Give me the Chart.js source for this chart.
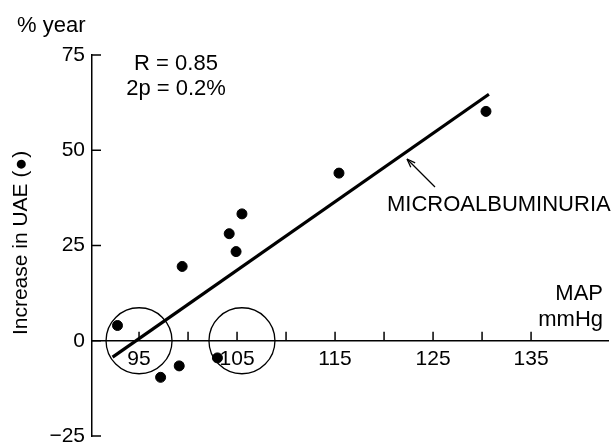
<!DOCTYPE html>
<html>
<head>
<meta charset="utf-8">
<script src="https://cdn.jsdelivr.net/npm/chart.js@4/dist/chart.umd.min.js"></script>
<style>
  html, body { margin: 0; padding: 0; background: #fff; }
  #wrap { width: 612px; height: 445px; position: relative; }
</style>
</head>
<body>
<div id="wrap"><canvas id="c" width="612" height="445"></canvas></div>
<script>
// MAP (mmHg) and increase in UAE (% / year) for each patient
const mapValues   = [92.8, 97.2, 99.1, 99.4, 103.0, 104.2, 104.9, 105.5, 115.4, 130.4];
const uaeIncrease = [4.0, -9.6, -6.6, 19.5, -4.5, 28.1, 23.4, 33.3, 44.0, 60.2];
// Regression line end points
const regressionX = [92.3, 130.7];
const regressionY = [-4.3, 64.7];
// Encircled regions
const circleX = [95, 105.5];
const circleY = [0, 0];
// Axis ticks
const xTicks = [95, 100, 105, 110, 115, 120, 125, 130, 135];
const xLabelled = [95, 105, 115, 125, 135];
const yTicks = [-25, 0, 25, 50, 75];

const FONT = '"Liberation Sans", Arial, Helvetica, sans-serif';
const INK = '#000';

const pts = mapValues.map((x, i) => ({ x, y: uaeIncrease[i] }));
const reg = regressionX.map((x, i) => ({ x, y: regressionY[i] }));
const circ = circleX.map((x, i) => ({ x, y: circleY[i] }));

const decor = {
  id: 'decor',
  afterDraw(chart) {
    const { ctx, scales: { x, y }, chartArea } = chart;
    ctx.save();
    ctx.strokeStyle = INK;
    ctx.lineWidth = 1.5;
    // x tick marks pointing up from the axis line
    const y0 = y.getPixelForValue(0);
    xTicks.forEach(v => {
      const px = x.getPixelForValue(v);
      ctx.beginPath(); ctx.moveTo(px, y0); ctx.lineTo(px, y0 - 9); ctx.stroke();
    });
    // y tick marks pointing right into the plot
    yTicks.forEach(v => {
      const py = y.getPixelForValue(v);
      ctx.beginPath(); ctx.moveTo(chartArea.left, py); ctx.lineTo(chartArea.left + 9, py); ctx.stroke();
    });
    // texts
    ctx.fillStyle = INK;
    ctx.font = '22px ' + FONT;
    ctx.textBaseline = 'middle';
    ctx.textAlign = 'left';
    ctx.fillText('% year', 17, 26);
    ctx.textAlign = 'center';
    ctx.fillText('R = 0.85', 176, 64);
    ctx.fillText('2p = 0.2%', 176, 89);
    ctx.textAlign = 'left';
    ctx.fillText('MICROALBUMINURIA', 387, 205);
    ctx.textAlign = 'right';
    ctx.fillText('MAP', 603, 294);
    ctx.fillText('mmHg', 603, 320);
    // y title
    ctx.save();
    ctx.font = '21px ' + FONT;
    ctx.translate(21, 243);
    ctx.rotate(-Math.PI / 2);
    ctx.textAlign = 'center';
    ctx.fillText('Increase in UAE (\u25CF)', 0, 0);
    ctx.restore();
    // arrow to regression line
    ctx.lineWidth = 1.3;
    const ax0 = 435, ay0 = 187, ax1 = 407, ay1 = 159;
    ctx.beginPath(); ctx.moveTo(ax0, ay0); ctx.lineTo(ax1, ay1); ctx.stroke();
    const ang = Math.atan2(ay1 - ay0, ax1 - ax0);
    const hl = 9, hw = 0.35;
    ctx.beginPath();
    ctx.moveTo(ax1, ay1);
    ctx.lineTo(ax1 - hl * Math.cos(ang - hw), ay1 - hl * Math.sin(ang - hw));
    ctx.moveTo(ax1, ay1);
    ctx.lineTo(ax1 - hl * Math.cos(ang + hw), ay1 - hl * Math.sin(ang + hw));
    ctx.stroke();
    ctx.restore();
  }
};

new Chart(document.getElementById('c'), {
  type: 'scatter',
  data: {
    datasets: [
      {
        label: 'UAE',
        data: pts,
        backgroundColor: INK,
        borderColor: INK,
        pointRadius: 5,
        pointHoverRadius: 5,
        clip: false
      },
      {
        type: 'line',
        label: 'Regression',
        data: reg,
        borderColor: INK,
        borderWidth: 3.2,
        pointRadius: 0,
        fill: false,
        tension: 0,
        clip: false
      },
      {
        label: 'Circles',
        data: circ,
        backgroundColor: 'rgba(0,0,0,0)',
        borderColor: INK,
        borderWidth: 1.3,
        pointRadius: 33,
        pointHoverRadius: 33,
        clip: false
      }
    ]
  },
  options: {
    responsive: false,
    animation: false,
    events: [],
    layout: { autoPadding: false, padding: { left: 0, top: 55, right: 4, bottom: 9 } },
    plugins: { legend: { display: false }, tooltip: { enabled: false } },
    scales: {
      x: {
        type: 'linear',
        position: { y: 0 },
        min: 90.2,
        max: 142.85,
        afterBuildTicks(scale) { scale.ticks = xTicks.map(v => ({ value: v })); },
        afterFit(scale) {
          scale.height = 0;
          scale.paddingLeft = 0; scale.paddingRight = 0;
          scale.paddingTop = 0; scale.paddingBottom = 0;
        },
        ticks: {
          autoSkip: false,
          maxRotation: 0,
          color: INK,
          padding: 6,
          font: { family: FONT, size: 21 },
          callback: v => (xLabelled.includes(v) ? String(v) : '')
        },
        grid: { display: true, drawOnChartArea: false, drawTicks: false },
        border: { display: true, color: INK, width: 1.5 }
      },
      y: {
        type: 'linear',
        position: 'left',
        min: -25,
        max: 75,
        afterBuildTicks(scale) { scale.ticks = yTicks.map(v => ({ value: v })); },
        afterFit(scale) {
          scale.width = 92;
          scale.paddingTop = 0; scale.paddingBottom = 0;
        },
        ticks: {
          autoSkip: false,
          color: INK,
          padding: 7,
          font: { family: FONT, size: 21 },
          callback: v => (v < 0 ? '\u2212' + Math.abs(v) : String(v))
        },
        grid: { display: true, drawOnChartArea: false, drawTicks: false },
        border: { display: true, color: INK, width: 1.5 }
      }
    }
  },
  plugins: [decor]
});
</script>
</body>
</html>
